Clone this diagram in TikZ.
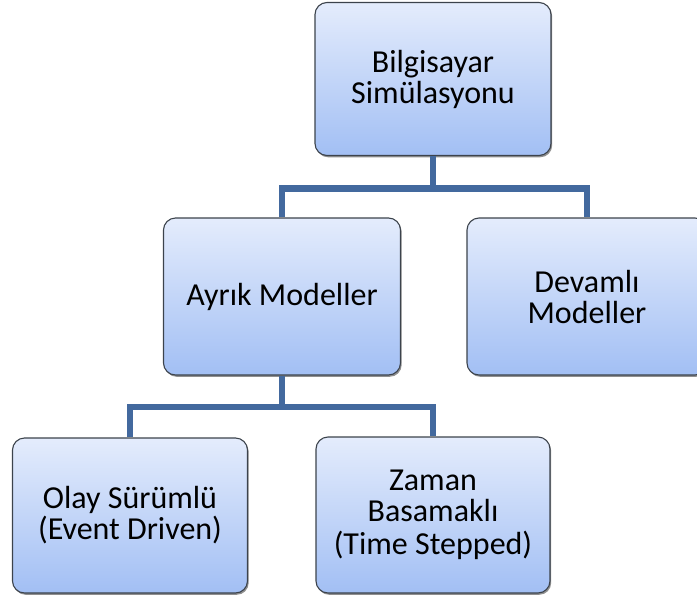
\documentclass[tikz,border=0pt]{standalone}
\usepackage{fontspec}
\setmainfont{Carlito}
\usetikzlibrary{shadows}

\definecolor{boxtop}{HTML}{E4ECFC}
\definecolor{boxbot}{HTML}{A2BFF4}
\definecolor{boxline}{HTML}{3C434C}
\definecolor{linkblue}{HTML}{43699E}

\tikzset{
  box/.style={
    draw=boxline, line width=1.1pt, rounded corners=12pt,
    top color=boxtop, bottom color=boxbot,
    drop shadow={shadow xshift=1.2pt, shadow yshift=-1.8pt, opacity=0.55, fill=black!80},
    align=center, inner sep=0pt,
    font=\fontsize{32}{31}\selectfont
  },
  link/.style={draw=linkblue, line width=6.5pt, line join=miter, line cap=butt}
}

\begin{document}
\begin{tikzpicture}[x=1pt, y=-1pt]
  \useasboundingbox (0,0) rectangle (697,600);
  \clip (0,0) rectangle (697,600);

  % tree of simulation model types
  \node[box, minimum width=236pt, minimum height=153pt] (sim) at (433,79)
    {Bilgisayar\\Simülasyonu};
  \node[box, minimum width=237pt, minimum height=157pt] (ayr) at (282,296.5)
    {Ayrık Modeller};
  \node[box, minimum width=240pt, minimum height=157pt] (dev) at (587,296.5)
    {Devamlı\\Modeller};
  \node[box, minimum width=235pt, minimum height=155pt] (olay) at (130,515.5)
    {Olay Sürümlü\\(Event Driven)};
  \node[box, minimum width=234pt, minimum height=156pt] (zam) at (433,515)
    {Zaman\\Basamaklı\\[2pt](Time Stepped)};

  % elbow connectors
  \coordinate (j1) at (433,188.5);
  \coordinate (j2) at (282,407);
  \draw[link] (sim.south) -- (j1);
  \draw[link] (ayr.north) |- (j1) -| (dev.north);
  \draw[link] (ayr.south) -- (j2);
  \draw[link] (olay.north) |- (j2) -| (zam.north);
\end{tikzpicture}
\end{document}
